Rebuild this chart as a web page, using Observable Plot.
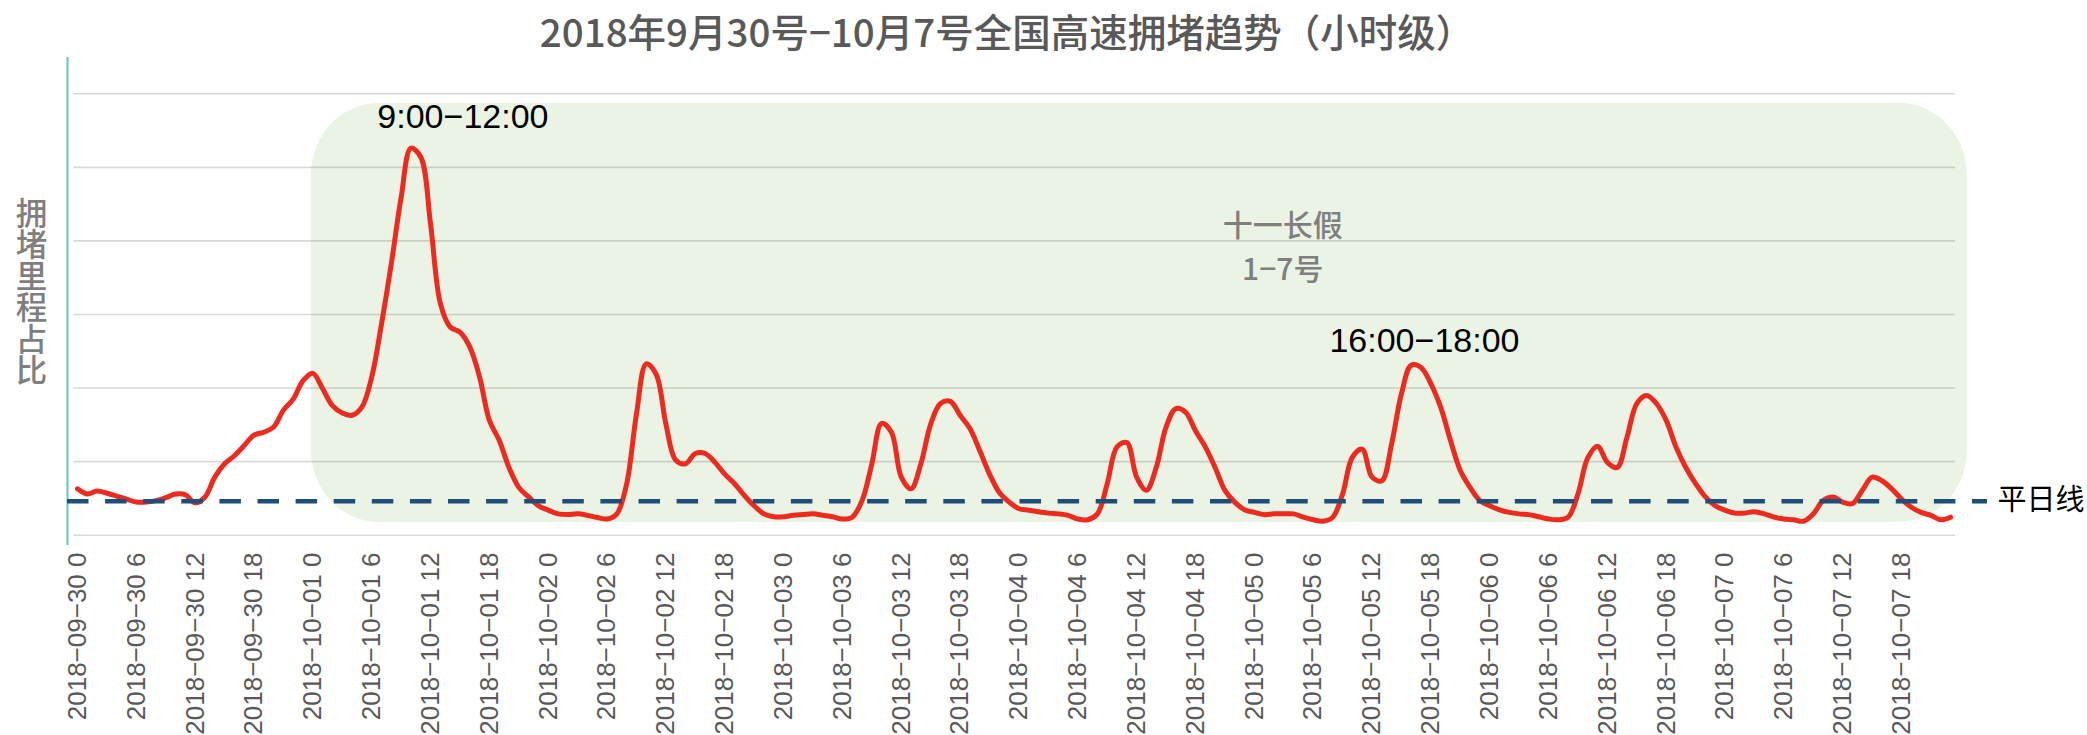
<!DOCTYPE html>
<html><head><meta charset="utf-8">
<script src="https://cdn.jsdelivr.net/npm/d3@7"></script>
<script src="https://cdn.jsdelivr.net/npm/@observablehq/plot@0.6"></script>
<style>
body{margin:0;background:#fff;}
#wrap{position:relative;width:2087px;height:735px;overflow:hidden}
#wrap svg{position:absolute;left:0;top:0}
#title{position:absolute;left:0;top:11px;width:2014px;text-align:center;font-family:"Noto Sans CJK SC";font-weight:500;font-size:38.5px;line-height:38px;color:#595959;white-space:nowrap;z-index:2}
#ylab{position:absolute;left:15px;top:197px;writing-mode:vertical-rl;text-orientation:upright;font-family:"Noto Sans CJK SC";font-weight:500;font-size:31.5px;line-height:31.5px;color:#7f7f7f;z-index:2}
</style></head>
<body><div id="wrap"><div id="title"></div><div id="ylab"></div></div>
<script>
const titleText = "2018年9月30号−10月7号全国高速拥堵趋势（小时级）";
const yLabel = "拥堵里程占比";
const days = ["2018-09-30","2018-10-01","2018-10-02","2018-10-03","2018-10-04","2018-10-05","2018-10-06","2018-10-07"];
const tickHoursOfDay = [0, 6, 12, 18];
// hourly congestion values, 2018-09-30 0h .. 2018-10-07 23h (gridline units)
const values = [
0.63,0.56,0.60,0.57,0.53,0.49,0.45,0.45,0.47,0.51,0.56,0.55,0.44,0.52,0.79,0.97,1.08,1.22,1.36,1.40,1.47,1.70,1.85,2.10,
2.20,1.99,1.76,1.66,1.63,1.74,2.15,2.87,3.69,4.59,5.26,5.14,4.23,3.15,2.83,2.76,2.56,2.15,1.56,1.29,0.92,0.65,0.52,0.40,
0.34,0.29,0.28,0.29,0.27,0.24,0.22,0.29,0.70,1.65,2.33,2.19,1.51,1.02,0.97,1.11,1.11,0.99,0.83,0.70,0.54,0.40,0.29,0.25,
0.25,0.27,0.28,0.29,0.27,0.25,0.22,0.245,0.47,0.97,1.52,1.40,0.79,0.63,0.97,1.51,1.79,1.82,1.63,1.45,1.15,0.83,0.58,0.45,
0.36,0.34,0.32,0.30,0.29,0.27,0.22,0.21,0.29,0.70,1.20,1.26,0.79,0.61,0.92,1.47,1.72,1.67,1.42,1.20,0.92,0.61,0.45,0.345,
0.31,0.28,0.29,0.29,0.29,0.245,0.21,0.19,0.245,0.56,1.06,1.17,0.79,0.74,1.24,1.92,2.31,2.28,2.06,1.74,1.29,0.88,0.65,0.47,
0.40,0.345,0.31,0.29,0.28,0.25,0.22,0.21,0.245,0.56,1.05,1.21,0.99,0.92,1.33,1.79,1.90,1.79,1.56,1.20,0.92,0.70,0.52,0.40,
0.34,0.30,0.30,0.32,0.29,0.245,0.22,0.21,0.19,0.29,0.47,0.52,0.45,0.43,0.61,0.79,0.74,0.63,0.49,0.38,0.31,0.27,0.21,0.245
];
const weekdayLevel = 0.462;          // 平日线
const gridValues = [0, 1, 2, 3, 4, 5, 6];
const holidayStart = 24, holidayEnd = 192; // 十一长假 1-7号 (hours)
const annotations = [
  {h: 39.3, v: 5.676, text: "9:00−12:00"},
  {h: 137.35, v: 2.633, text: "16:00−18:00"}
];
const holidayNote = [
  {h: 122.9, v: 4.196, text: "十一长假"},
  {h: 122.9, v: 3.598, text: "1−7号"}
];

const series = values.map((v, h) => ({h, v}));
const tickHours = [], tickLabels = [];
days.forEach((d, i) => tickHoursOfDay.forEach(t => {
  tickHours.push(i * 24 + t);
  tickLabels.push(d.replace(/-/g, "−") + " " + t);
}));

const xDomain = [-1.02, 191.5];
const yDomain = [-0.14, 6.493];

const chart = Plot.plot({
  width: 2087, height: 735,
  marginLeft: 67, marginRight: 132, marginTop: 57, marginBottom: 190,
  x: {domain: xDomain, axis: null},
  y: {domain: yDomain, axis: null},
  style: {fontFamily: "'Liberation Sans', Arial, sans-serif", background: "transparent", overflow: "visible"},
  marks: [
    Plot.rect([{a: holidayStart, b: holidayEnd}], {x1: "a", x2: "b", y1: 0.173, y2: 5.868, insetLeft: -1.4, insetRight: -7, fill: "#ebf3e5", rx: 68, ry: 72}),
    Plot.ruleY(gridValues, {x1: -0.38, x2: xDomain[1], stroke: "#000", strokeOpacity: 0.15, strokeWidth: 1.6}),
    Plot.ruleX([xDomain[0]], {y1: yDomain[0], y2: yDomain[1], stroke: "#5cc9c4", strokeWidth: 2}),
    Plot.line(series, {x: "h", y: "v", curve: "catmull-rom", stroke: "#ee2a1e", strokeWidth: 5, strokeLinejoin: "round", strokeLinecap: "round"}),
    Plot.ruleY([weekdayLevel], {x1: xDomain[0], x2: 194.76, stroke: "#1f4e79", strokeWidth: 4.5, strokeDasharray: "21.5,16.6"}),
    Plot.text([weekdayLevel], {x: 194.76, y: d => d, text: () => "平日线", textAnchor: "start", dx: 10, fontSize: 29, fill: "#000", fontFamily: "'Noto Sans CJK SC'"}),
    Plot.text(annotations, {x: "h", y: "v", text: "text", fontSize: 34, fill: "#000"}),
    Plot.text(holidayNote, {x: "h", y: "v", text: "text", fontSize: 30, fill: "#7f7f7f", fontFamily: "'Noto Sans CJK SC'", fontWeight: 500}),
    Plot.axisX({ticks: tickHours, tickFormat: (d, i) => tickLabels[i], tickRotate: -90, tickSize: 0, tickPadding: 7, fontSize: 26, color: "#595959", label: null, anchor: "bottom"})
  ]
});
document.getElementById("wrap").appendChild(chart);
document.getElementById("title").textContent = titleText;
document.getElementById("ylab").textContent = yLabel;
</script>
</body></html>
